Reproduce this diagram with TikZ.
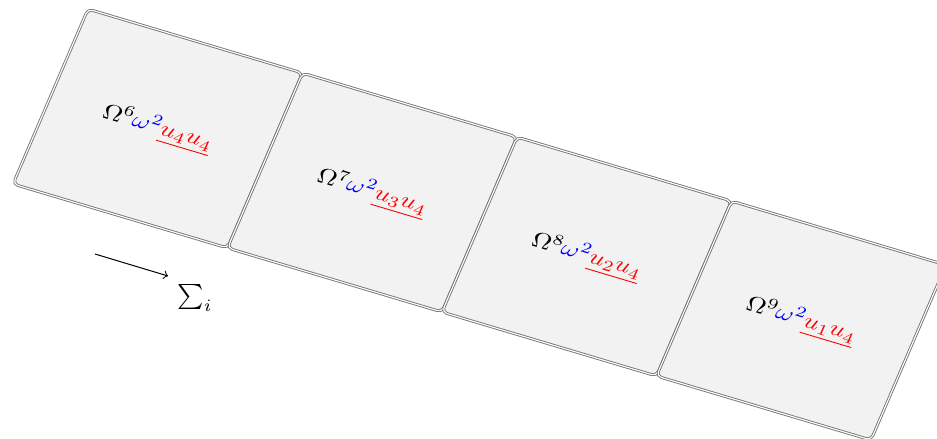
\documentclass[tikz,border=0pt]{standalone}
\usepackage{amsmath}
\usetikzlibrary{arrows}
\begin{document}
\begin{tikzpicture}[x=1pt,y=1pt,
  tile/.style={draw=black!55, double=white, double distance=0.45pt, line width=0.35pt, fill=black!5, rounded corners=2pt},
  lbl/.style={transform shape, inner sep=0pt}]
\useasboundingbox (0,0) rectangle (374.8,-175.2);
\begin{scope}[cm={1.0094,-0.3012,0.3529,0.8235,(5.2,-73.6)}]
  \foreach \i in {0,1,2,3} \path[tile] (\i*85,0) rectangle ++(85,85);
  \node[lbl] (t6) at (42.5,42.5) {$\Omega^{6}{\color{blue}\omega^{2}}{\color{red}\underline{u_4u_4}}$};
  \node[lbl] (t7) at (127.5,42.5) {$\Omega^{7}{\color{blue}\omega^{2}}{\color{red}\underline{u_3u_4}}$};
  \node[lbl] (t8) at (212.5,42.5) {$\Omega^{8}{\color{blue}\omega^{2}}{\color{red}\underline{u_2u_4}}$};
  \node[lbl] (t9) at (297.5,42.5) {$\Omega^{9}{\color{blue}\omega^{2}}{\color{red}\underline{u_1u_4}}$};
\end{scope}
\coordinate (as) at (38,-101.6);
\coordinate (ae) at (67.2,-110.4);
\draw[->, line width=0.4pt] (as) -- (ae);
\node (sum) at (78,-119.2) {$\sum_i$};
\end{tikzpicture}
\end{document}
